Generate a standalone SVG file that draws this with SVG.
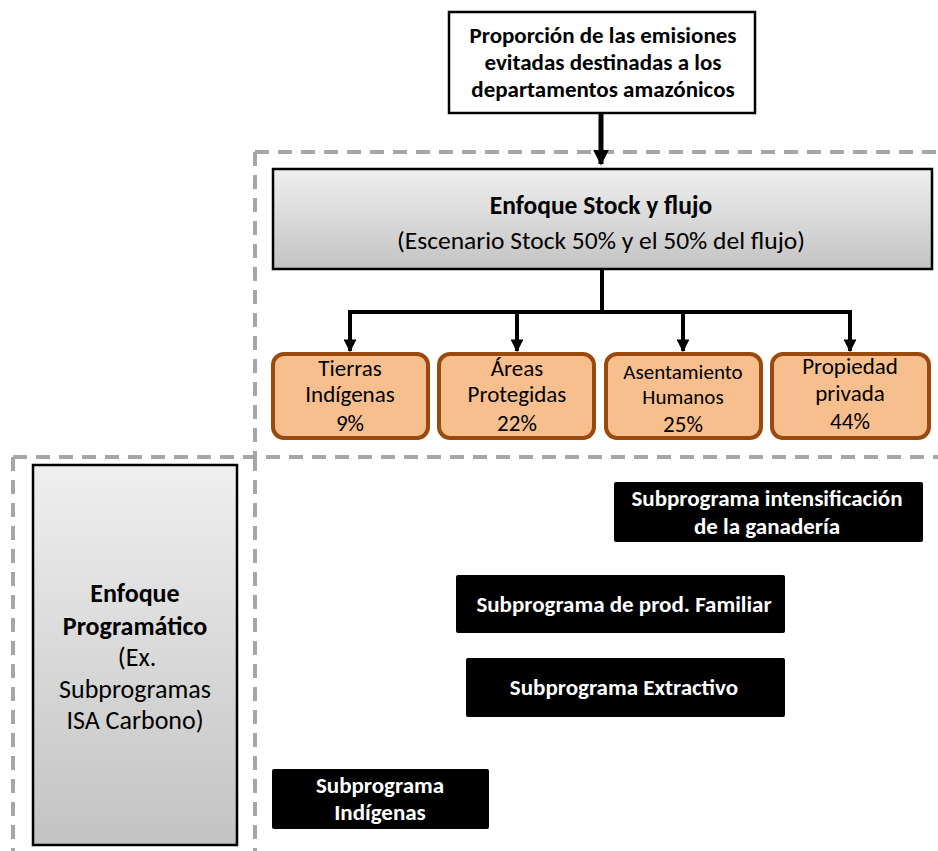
<svg xmlns="http://www.w3.org/2000/svg" width="938" height="851" viewBox="0 0 938 851">
<defs>
<linearGradient id="gray" x1="0" y1="0" x2="0" y2="1">
<stop offset="0" stop-color="#efefef"/>
<stop offset="1" stop-color="#c3c3c3"/>
</linearGradient>
<marker id="ah" viewBox="0 0 10 10" refX="9" refY="5" markerWidth="3.2" markerHeight="3.2" orient="auto" markerUnits="strokeWidth">
<path d="M0,0 L10,5 L0,10 z" fill="#000"/>
</marker>
</defs>
<style>
text{font-family:Carlito,Calibri,Roboto,"Liberation Sans",sans-serif;text-anchor:middle;fill:#000}
.b{font-weight:bold}
.w{fill:#fff;font-weight:bold;font-size:23px}
.dash{stroke:#a6a6a6;stroke-width:4;stroke-dasharray:14 9;fill:none}
.org{fill:#f8bf8e;stroke:#9a4a0c;stroke-width:4}
.blk{fill:#000}
.con{stroke:#000;fill:none}
</style>
<g id="frames">
<path class="dash" d="M255,152 H938"/>
<path class="dash" d="M255,152 V457"/>
<path class="dash" d="M13,457 H938"/>
<path class="dash" d="M13,457 V851"/>
<path class="dash" d="M255,457 V851"/>
</g>
<g id="connectors">
<path class="con" stroke-width="5" d="M601,113 V164" marker-end="url(#ah)"/>
<path class="con" stroke-width="4" d="M602,269 V312 M350,312 H850"/>
<path class="con" stroke-width="4" d="M350,310 V351" marker-end="url(#ah)"/>
<path class="con" stroke-width="4" d="M517,310 V351" marker-end="url(#ah)"/>
<path class="con" stroke-width="4" d="M683,310 V351" marker-end="url(#ah)"/>
<path class="con" stroke-width="4" d="M850,310 V351" marker-end="url(#ah)"/>
</g>
<g id="top">
<rect x="449" y="12" width="306" height="101" fill="#fff" stroke="#000" stroke-width="2.5"/>
<text class="b" font-size="23" x="603" y="43">Proporción de las emisiones</text>
<text class="b" font-size="23" x="603" y="70">evitadas destinadas a los</text>
<text class="b" font-size="23" x="603" y="97">departamentos amazónicos</text>
</g>
<g id="stock">
<rect x="273" y="169" width="659" height="100" fill="url(#gray)" stroke="#000" stroke-width="2.5"/>
<text class="b" font-size="25.5" x="601" y="214">Enfoque Stock y flujo</text>
<text font-size="25.5" x="601" y="249">(Escenario Stock 50% y el 50% del flujo)</text>
</g>
<g id="tierras">
<rect class="org" x="273" y="354" width="155" height="84" rx="11"/>
<text font-size="23" x="350" y="376">Tierras</text>
<text font-size="23" x="350" y="402">Indígenas</text>
<text font-size="23" x="350" y="431">9%</text>
</g>
<g id="areas">
<rect class="org" x="439" y="354" width="155" height="84" rx="11"/>
<text font-size="23" x="517" y="376">Áreas</text>
<text font-size="23" x="517" y="402">Protegidas</text>
<text font-size="23" x="517" y="431">22%</text>
</g>
<g id="asentamiento">
<rect class="org" x="606" y="354" width="155" height="84" rx="11"/>
<text font-size="21" x="683" y="379">Asentamiento</text>
<text font-size="21" x="683" y="404">Humanos</text>
<text font-size="23" x="683" y="432">25%</text>
</g>
<g id="propiedad">
<rect class="org" x="772" y="354" width="157" height="84" rx="11"/>
<text font-size="23" x="850" y="374">Propiedad</text>
<text font-size="23" x="850" y="401">privada</text>
<text font-size="23" x="850" y="429">44%</text>
</g>
<g id="programatico">
<rect x="33" y="465" width="204" height="380" fill="url(#gray)" stroke="#000" stroke-width="2.5"/>
<text class="b" font-size="26" x="135" y="602">Enfoque</text>
<text class="b" font-size="26" x="135" y="635">Programático</text>
<text font-size="26" x="137" y="666">(Ex.</text>
<text font-size="26" x="135" y="698">Subprogramas</text>
<text font-size="26" x="135" y="729">ISA Carbono)</text>
</g>
<g id="ganaderia">
<rect class="blk" x="614" y="482" width="309" height="60" rx="2"/>
<text class="w" x="767" y="506">Subprograma intensificación</text>
<text class="w" x="767" y="534">de la ganadería</text>
</g>
<g id="familiar">
<rect class="blk" x="456" y="575" width="329" height="58" rx="2"/>
<text class="w" x="624" y="612">Subprograma de prod. Familiar</text>
</g>
<g id="extractivo">
<rect class="blk" x="466" y="658" width="319" height="59" rx="2"/>
<text class="w" x="624" y="695">Subprograma Extractivo</text>
</g>
<g id="indigenas">
<rect class="blk" x="272" y="769" width="217" height="60" rx="2"/>
<text class="w" x="380" y="793">Subprograma</text>
<text class="w" x="380" y="820">Indígenas</text>
</g>
</svg>
